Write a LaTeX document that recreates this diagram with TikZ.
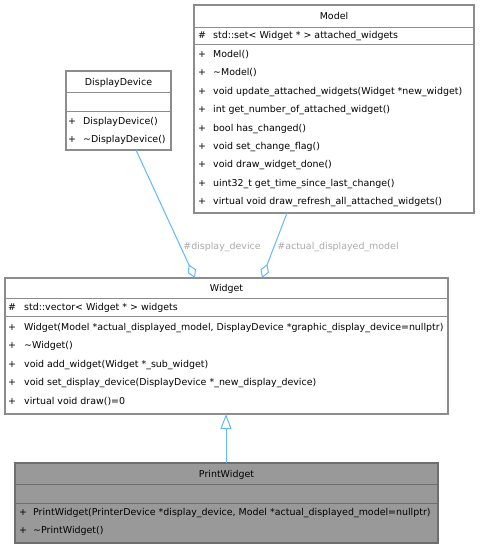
\documentclass[tikz,border=0pt]{standalone}
\usepackage{fontspec}
\setmainfont{DejaVu Sans}
\usetikzlibrary{arrows.meta,calc}
\definecolor{edgec}{HTML}{63B8FF}
\definecolor{bord}{HTML}{8C8C8C}
\definecolor{pwfill}{HTML}{999999}
\definecolor{pwbord}{HTML}{6E6E6E}
\definecolor{lbl}{HTML}{AAAAAA}
\begin{document}
\begin{tikzpicture}[x=1pt,y=-1pt,
 box/.style={draw=bord, line width=1.2pt, fill=white, inner sep=0pt, outer sep=0pt, anchor=north west, rectangle},
 sep/.style={draw=bord, line width=1pt},
 psep/.style={draw=pwbord, line width=1pt},
 txt/.style={font=\fontsize{9.45}{11}\selectfont, inner sep=0pt, anchor=base west},
 ttl/.style={font=\fontsize{9.45}{11}\selectfont, inner sep=0pt, anchor=base},
 assoc/.style={draw=edgec, line width=1pt, -{Diamond[open,fill=white,length=15pt,width=9pt]}},
 inh/.style={draw=edgec, line width=1pt, -{Triangle[open,fill=white,length=15pt,width=11pt]}},
 elbl/.style={font=\fontsize{9.45}{11}\selectfont, text=lbl, inner sep=0pt, anchor=base}]
\useasboundingbox (0,0) rectangle (480,549);
\fill[white] (0,0) rectangle (480,549);

% Model
\node[box, minimum width=280pt, minimum height=208pt] (model) at (194,5) {};
\draw[sep] (194,27) -- (474,27);
\draw[sep] (194,44) -- (474,44);
\node[ttl] (modelT) at (334,19.5) {Model};
\node[ttl] (mA0s) at (202,38.5) {\#};
\node[txt] (mA0) at (213,38.5) {std::set< Widget * > attached\_widgets};
\node[ttl] (m0s) at (202,57.5) {+};
\node[txt] (m0) at (213,57.5) {Model()};
\node[ttl] (m1s) at (202,75.9) {+};
\node[txt] (m1) at (213,75.9) {\textasciitilde Model()};
\node[ttl] (m2s) at (202,94.3) {+};
\node[txt] (m2) at (213,94.3) {void update\_attached\_widgets(Widget *new\_widget)};
\node[ttl] (m3s) at (202,112.7) {+};
\node[txt] (m3) at (213,112.7) {int get\_number\_of\_attached\_widget()};
\node[ttl] (m4s) at (202,131.1) {+};
\node[txt] (m4) at (213,131.1) {bool has\_changed()};
\node[ttl] (m5s) at (202,149.5) {+};
\node[txt] (m5) at (213,149.5) {void set\_change\_flag()};
\node[ttl] (m6s) at (202,167.9) {+};
\node[txt] (m6) at (213,167.9) {void draw\_widget\_done()};
\node[ttl] (m7s) at (202,186.3) {+};
\node[txt] (m7) at (213,186.3) {uint32\_t get\_time\_since\_last\_change()};
\node[ttl] (m8s) at (202,204.7) {+};
\node[txt] (m8) at (213,204.7) {virtual void draw\_refresh\_all\_attached\_widgets()};

% DisplayDevice
\node[box, minimum width=105pt, minimum height=79pt] (dd) at (66,71) {};
\draw[sep] (66,92) -- (171,92);
\draw[sep] (66,111) -- (171,111);
\node[ttl] (ddT) at (118.5,85.5) {DisplayDevice};
\node[ttl] (d0s) at (72,124.5) {+};
\node[txt] (d0) at (83,124.5) {DisplayDevice()};
\node[ttl] (d1s) at (72,142.5) {+};
\node[txt] (d1) at (83,142.5) {\textasciitilde DisplayDevice()};

% Widget
\node[box, minimum width=443pt, minimum height=136pt] (widget) at (5,278) {};
\draw[sep] (5,298) -- (448,298);
\draw[sep] (5,316) -- (448,316);
\node[ttl] (wT) at (226.5,291.5) {Widget};
\node[ttl] (wA0s) at (12,310.5) {\#};
\node[txt] (wA0) at (24,310.5) {std::vector< Widget * > widgets};
\node[ttl] (w0s) at (12,330) {+};
\node[txt] (w0) at (24,330) {Widget(Model *actual\_displayed\_model, DisplayDevice *graphic\_display\_device=nullptr)};
\node[ttl] (w1s) at (12,348.5) {+};
\node[txt] (w1) at (24,348.5) {\textasciitilde Widget()};
\node[ttl] (w2s) at (12,367) {+};
\node[txt] (w2) at (24,367) {void add\_widget(Widget *\_sub\_widget)};
\node[ttl] (w3s) at (12,385.5) {+};
\node[txt] (w3) at (24,385.5) {void set\_display\_device(DisplayDevice *\_new\_display\_device)};
\node[ttl] (w4s) at (12,404) {+};
\node[txt] (w4) at (24,404) {virtual void draw()=0};

% PrintWidget
\node[box, draw=pwbord, fill=pwfill, minimum width=423pt, minimum height=80pt] (pw) at (15,463) {};
\draw[psep] (15,484) -- (438,484);
\draw[psep] (15,503) -- (438,503);
\node[ttl] (pT) at (226.5,477.5) {PrintWidget};
\node[ttl] (p0s) at (23,515.5) {+};
\node[txt] (p0) at (33,515.5) {PrintWidget(PrinterDevice *display\_device, Model *actual\_displayed\_model=nullptr)};
\node[ttl] (p1s) at (23,533.5) {+};
\node[txt] (p1) at (33,533.5) {\textasciitilde PrintWidget()};

% connectors
\draw[assoc] ($(dd.south west)+(70,0)$) -- ($(widget.north west)+(190,0)$);
\draw[assoc] ($(model.south west)+(93,0)$) -- ($(widget.north west)+(257,0)$);
\draw[inh] ($(pw.north west)+(211,0)$) -- ($(widget.south west)+(221,0)$);
\node[elbl] (l1) at (222,249.5) {\#display\_device};
\node[elbl] (l2) at (338,249.5) {\#actual\_displayed\_model};
\end{tikzpicture}
\end{document}
